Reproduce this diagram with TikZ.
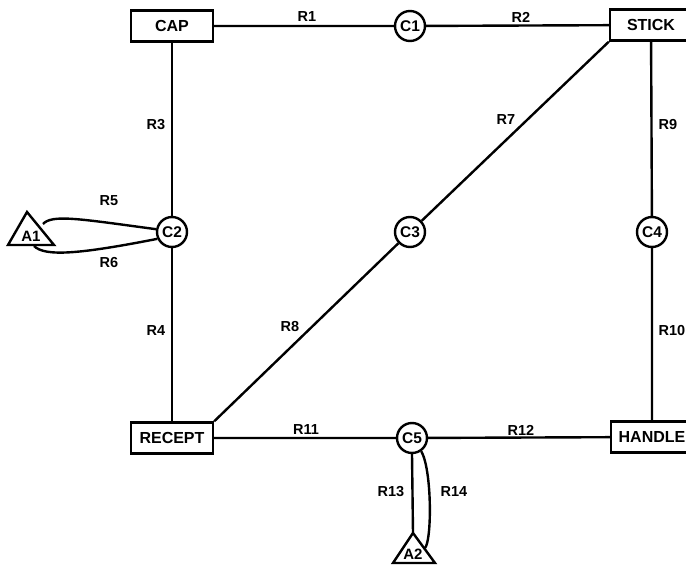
\documentclass[tikz,border=0pt]{standalone}
\usepackage{fontspec}
\setmainfont{Liberation Sans}
\begin{document}
\begin{tikzpicture}[x=1pt,y=-1pt,line width=2.4pt,
  box/.style={draw,fill=white,minimum width=82pt,minimum height=31pt,inner sep=0pt,font=\bfseries\fontsize{16}{16}\selectfont},
  cnode/.style={draw,circle,fill=white,minimum size=30pt,inner sep=0pt,font=\bfseries\fontsize{15.5}{15.5}\selectfont},
  lab/.style={font=\bfseries\fontsize{14.5}{14.5}\selectfont,inner sep=1pt},
  tlab/.style={font=\bfseries\fontsize{15}{15}\selectfont,inner sep=0pt},
  tri/.style={draw,line join=miter}]
\useasboundingbox (0,0) rectangle (686,565);
% boxes
\node[box] (cap) at (172,26) {CAP};
\node[box] (stick) at (651,25) {STICK};
\node[box] (recept) at (172,438) {RECEPT};
\node[box] (handle) at (652,437) {HANDLE};
% circles
\node[cnode] (c1) at (410,26) {C1};
\node[cnode] (c2) at (172,232) {C2};
\node[cnode] (c3) at (410,232) {C3};
\node[cnode] (c4) at (652,232) {C4};
\node[cnode] (c5) at (412,438) {C5};
% triangles
\draw[tri] (27,212) -- (54,245) -- (8,245) -- cycle;
\node[tlab] (a1) at (31,236) {A1};
\draw[tri] (413,533) -- (435,563) -- (393,563) -- cycle;
\node[tlab] (a2) at (413,554) {A2};
\coordinate (a1r) at (43,224);
\coordinate (a1b) at (34,246);
\coordinate (a2t) at (413,533);
\coordinate (a2r) at (425,548);
% connectors
\draw (cap) -- (c1) -- (stick);
\draw (cap) -- (c2) -- (recept);
\draw (stick) -- (c4) -- (handle);
\draw (recept) -- (c5) -- (handle);
\draw (recept.north east) -- (c3) -- (stick.south west);
\draw (a1r) .. controls (52,214) and (80,219) .. (c2.170);
\draw (a1b) .. controls (45,257) and (80,254) .. (c2.205);
\draw (c5.270) -- (a2t);
\draw (c5.305) .. controls (432,470) and (432,540) .. (a2r);
% labels
\node[lab] (r1) at (307,17) {R1};
\node[lab] (r2) at (521,17) {R2};
\node[lab] (r3) at (156,125) {R3};
\node[lab] (r7) at (506,120) {R7};
\node[lab] (r9) at (668,125) {R9};
\node[lab] (r5) at (109,201) {R5};
\node[lab] (r6) at (109,263) {R6};
\node[lab] (r4) at (156,331) {R4};
\node[lab] (r8) at (290,327) {R8};
\node[lab] (r10) at (672,331) {R10};
\node[lab] (r11) at (306,430) {R11};
\node[lab] (r12) at (521,430) {R12};
\node[lab] (r13) at (391,492) {R13};
\node[lab] (r14) at (454,492) {R14};
\end{tikzpicture}
\end{document}
